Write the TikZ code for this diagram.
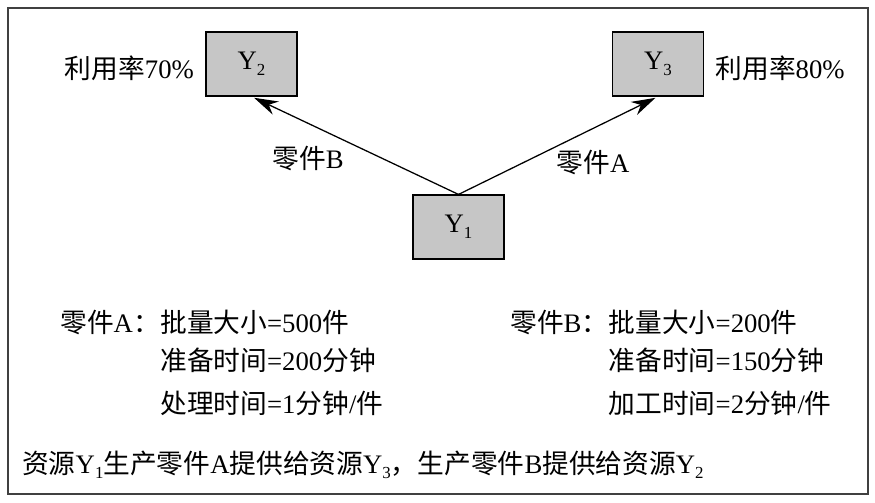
\documentclass[tikz,border=0pt]{standalone}
\usepackage{fontspec}
\setmainfont{Liberation Serif}
\newfontfamily\cjk{Noto Sans CJK SC}
\usetikzlibrary{arrows.meta,positioning}

\newcommand{\ysub}[1]{\raisebox{-0.45ex}{\fontsize{12}{12}\selectfont #1}}

\tikzset{
  res/.style={draw, fill=gray!45, line width=0.8pt, minimum width=2.275cm, minimum height=1.6cm},
  txt/.style={anchor=west, inner sep=0pt},
  flow/.style={-{Stealth[length=6mm,width=3.6mm]}, line width=0.9pt, shorten >=2pt}
}

\begin{document}
\begin{tikzpicture}[x=0.025cm,y=-0.025cm,font=\fontsize{19}{23}\selectfont]
		\useasboundingbox (0,0) rectangle (875,502);
		% Frame
		\draw[line width=0.9pt, black!75] (8,8) rectangle (868,494);

		% Resources
		\node[res] (y2) at (251.5,64) {Y\ysub{2}};
		\node[res] (y3) at (658,64) {Y\ysub{3}};
		\node[res] (y1) at (458.5,227) {Y\ysub{1}};
		\node[inner sep=0pt, left=0.28cm of y2, yshift=-3pt] (u2) {{\cjk 利用率}70\%};
		\node[inner sep=0pt, right=0.28cm of y3, yshift=-3pt] (u3) {{\cjk 利用率}80\%};

		% Flows
		\draw[flow] (y1.north) -- (y2.south);
		\draw[flow] (y1.north) -- (y3.south);
		\node (lb) at (308,158) {{\cjk 零件}B};
		\node (la) at (593,163) {{\cjk 零件}A};

		% Part A
		\node[txt] (pa) at (60,322) {{\cjk 零件}A{\cjk ：}};
		\node[txt, right=0pt of pa] (pa1) {{\cjk 批量大小}=500{\cjk 件}};
		\node[txt] (pa2) at (pa1.west |- 0,360) {{\cjk 准备时间}=200{\cjk 分钟}};
		\node[txt] (pa3) at (pa1.west |- 0,403) {{\cjk 处理时间}=1{\cjk 分钟}/{\cjk 件}};

		% Part B
		\node[txt] (pb) at (510,322) {{\cjk 零件}B{\cjk ：}};
		\node[txt, right=0pt of pb] (pb1) {{\cjk 批量大小}=200{\cjk 件}};
		\node[txt] (pb2) at (pb1.west |- 0,360) {{\cjk 准备时间}=150{\cjk 分钟}};
		\node[txt] (pb3) at (pb1.west |- 0,403) {{\cjk 加工时间}=2{\cjk 分钟}/{\cjk 件}};

		% Note
		\node[txt] (note) at (22,465) {{\cjk 资源}Y\ysub{1}{\cjk 生产零件}A{\cjk 提供给资源}Y\ysub{3}{\cjk ，生产零件}B{\cjk 提供给资源}Y\ysub{2}};
	\end{tikzpicture}
\end{document}
